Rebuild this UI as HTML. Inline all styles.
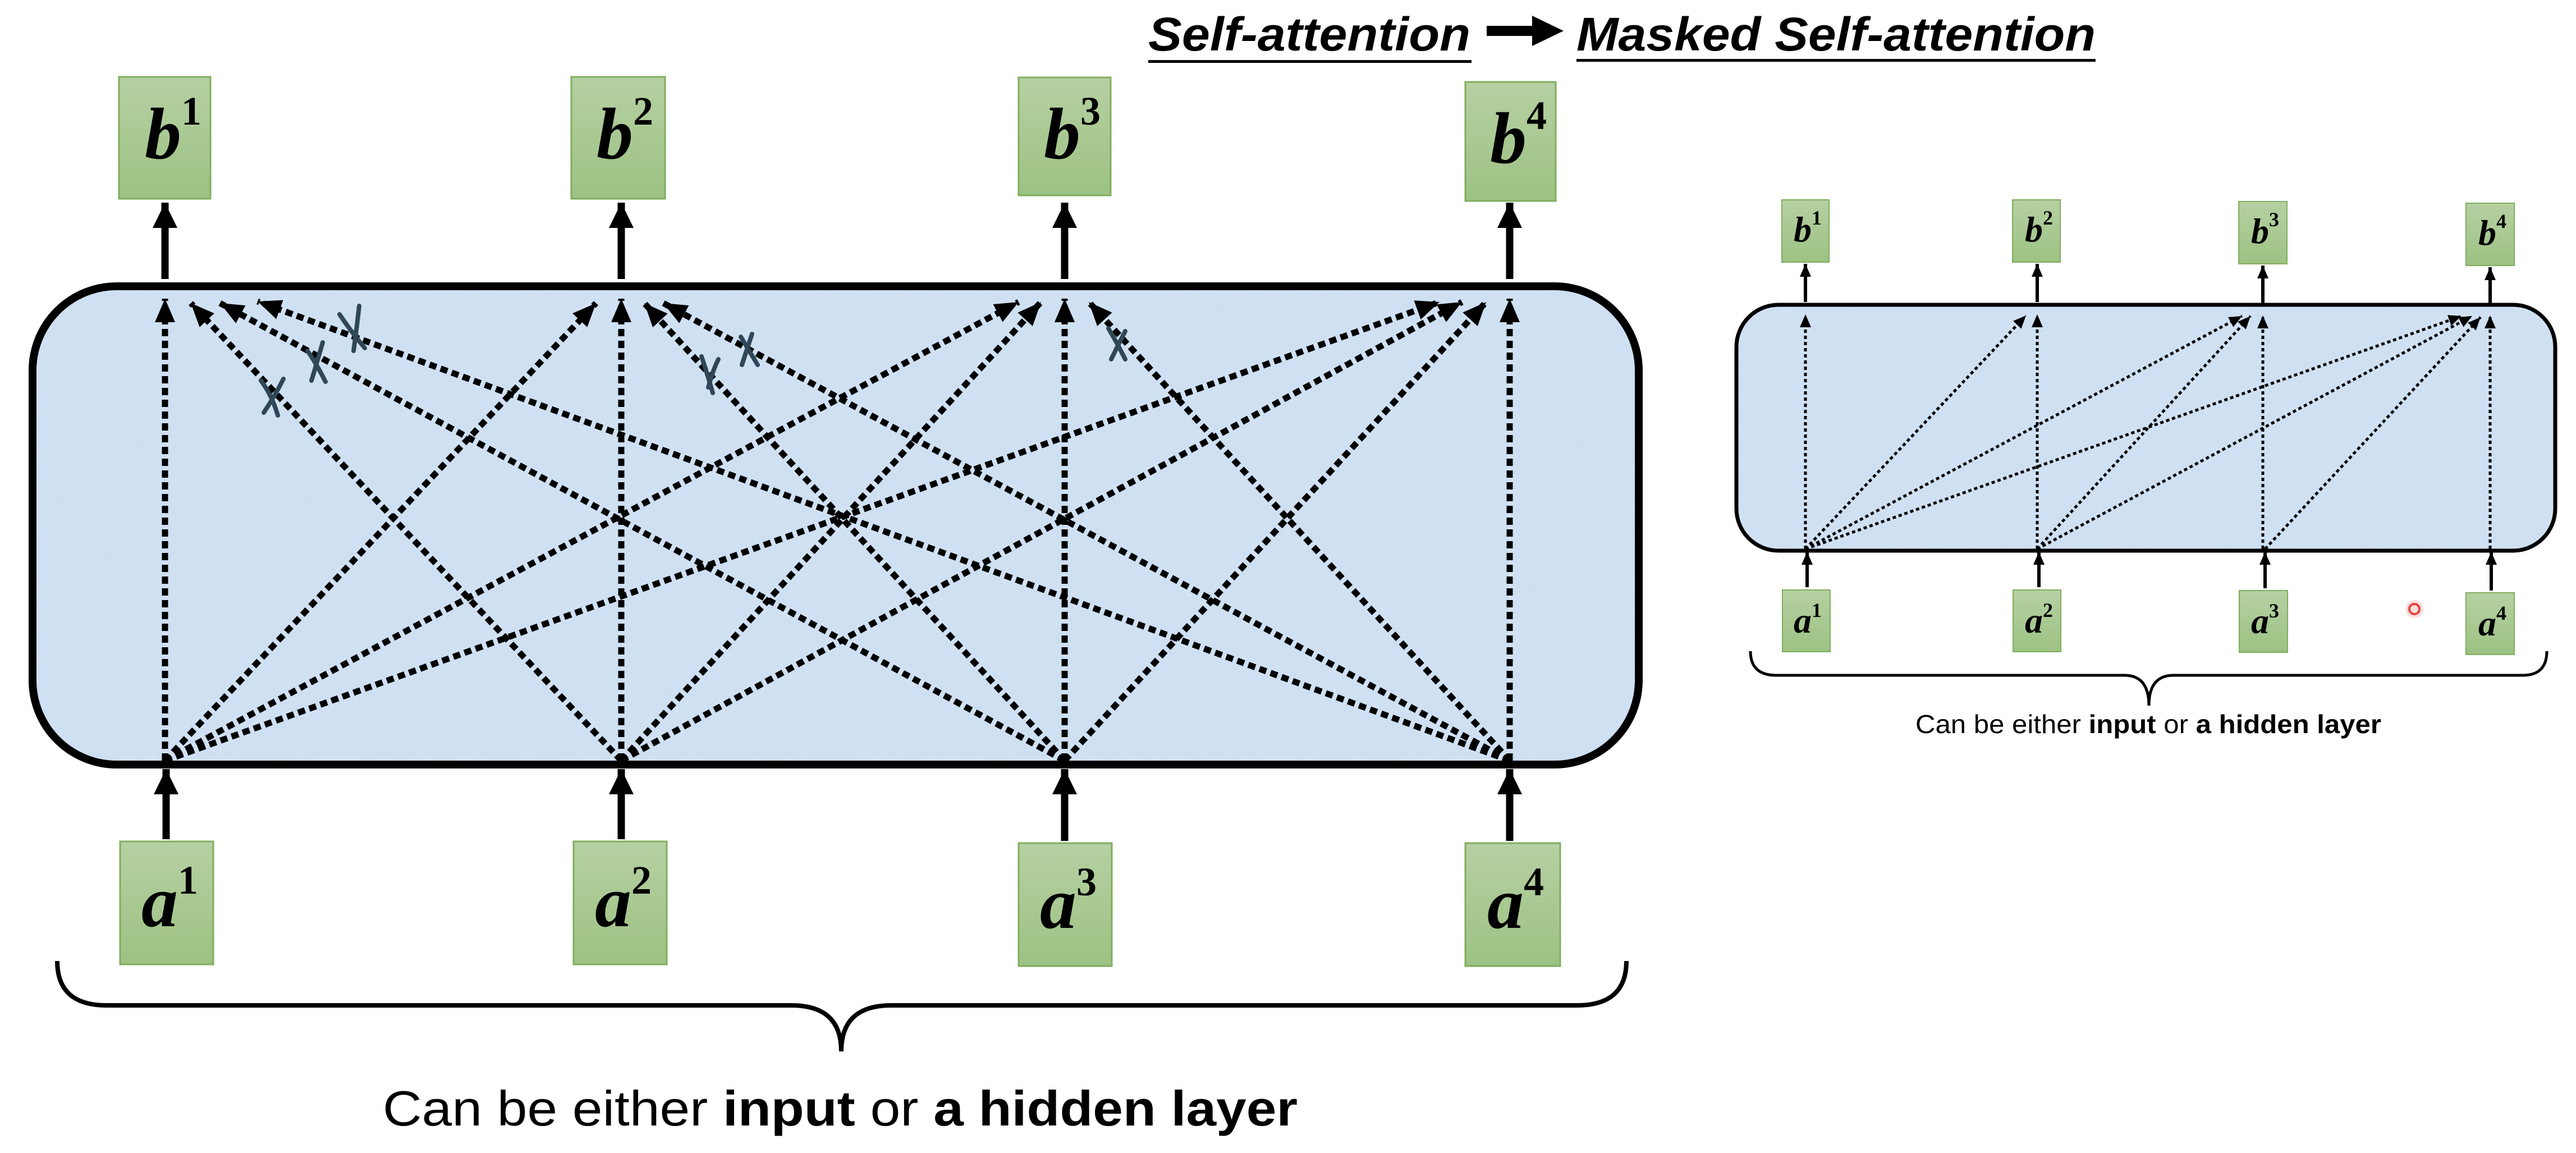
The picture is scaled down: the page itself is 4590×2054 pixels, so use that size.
<!DOCTYPE html>
<html><head><meta charset="utf-8"><style>html,body{margin:0;padding:0;background:#fff}svg{display:block}</style></head>
<body>
<svg width="4590" height="2054" viewBox="0 0 4590 2054" xmlns="http://www.w3.org/2000/svg">
<defs>
<linearGradient id="g" x1="0" y1="0" x2="0" y2="1"><stop offset="0" stop-color="#b6d0a2"/><stop offset="1" stop-color="#9cc283"/></linearGradient>
<filter id="tex"><feTurbulence type="fractalNoise" baseFrequency="0.05" numOctaves="2" seed="3"/><feColorMatrix type="matrix" values="0 0 0 0 0.55  0 0 0 0 0.68  0 0 0 0 0.85  0 0 0 0.35 0"/><feComposite in2="SourceGraphic" operator="in"/></filter>
<marker id="hL" markerUnits="userSpaceOnUse" markerWidth="44" markerHeight="36" refX="42" refY="18" orient="auto"><path d="M0,0 L42,18 L0,36 Z" fill="#000"/></marker>
<marker id="hS" markerUnits="userSpaceOnUse" markerWidth="46" markerHeight="44" refX="45" refY="22" orient="auto"><path d="M0,0 L45,22 L0,44 Z" fill="#000"/></marker>
<marker id="hr" markerUnits="userSpaceOnUse" markerWidth="24" markerHeight="20" refX="23" refY="10" orient="auto"><path d="M0,0 L23,10 L0,20 Z" fill="#000"/></marker>
</defs>

<!-- Title -->
<g font-family="Liberation Sans, sans-serif" font-weight="bold" font-style="italic" font-size="84">
<text x="2046" y="90" textLength="574" lengthAdjust="spacingAndGlyphs">Self-attention</text>
<text x="2809" y="90" textLength="925" lengthAdjust="spacingAndGlyphs">Masked Self-attention</text>
</g>
<rect x="2046" y="107" width="576" height="5" fill="#000"/>
<rect x="2809" y="105" width="925" height="5" fill="#000"/>
<path d="M2649,46 L2730,46 L2730,28 L2786,55 L2730,82 L2730,64 L2649,64 Z" fill="#000"/>

<!-- LEFT DIAGRAM -->
<rect x="58" y="510" width="2862" height="852" rx="150" ry="150" fill="#d2e2f4" stroke="#000" stroke-width="14"/>
<rect x="65" y="517" width="2848" height="838" rx="143" ry="143" fill="#fff" filter="url(#tex)"/>

<g fill="url(#g)" stroke="#7fae5e" stroke-width="3">
<rect x="212" y="137" width="163" height="217"/>
<rect x="1018" y="137" width="167" height="217"/>
<rect x="1815" y="138" width="164" height="210"/>
<rect x="2611" y="146" width="161" height="212"/>
<rect x="214" y="1499" width="166" height="219"/>
<rect x="1022" y="1499" width="166" height="219"/>
<rect x="1815" y="1502" width="166" height="219"/>
<rect x="2611" y="1502" width="169" height="219"/>
</g>
<g font-family="Liberation Serif, serif" font-weight="bold" font-style="italic" fill="#000">
<text x="258" y="282" font-size="130">b<tspan dy="-60" font-size="72" font-style="normal">1</tspan></text>
<text x="1063" y="282" font-size="130">b<tspan dy="-60" font-size="72" font-style="normal">2</tspan></text>
<text x="1860" y="282" font-size="130">b<tspan dy="-60" font-size="72" font-style="normal">3</tspan></text>
<text x="2655" y="290" font-size="130">b<tspan dy="-60" font-size="72" font-style="normal">4</tspan></text>
<text x="252" y="1650" font-size="130">a<tspan dy="-58" font-size="72" font-style="normal">1</tspan></text>
<text x="1060" y="1650" font-size="130">a<tspan dy="-58" font-size="72" font-style="normal">2</tspan></text>
<text x="1853" y="1653" font-size="130">a<tspan dy="-58" font-size="72" font-style="normal">3</tspan></text>
<text x="2650" y="1653" font-size="130">a<tspan dy="-58" font-size="72" font-style="normal">4</tspan></text>
</g>

<!-- solid arrows -->
<g stroke="#000" stroke-width="13" marker-end="url(#hS)">
<line x1="294" y1="497" x2="294" y2="361"/>
<line x1="1107" y1="497" x2="1107" y2="361"/>
<line x1="1897" y1="497" x2="1897" y2="361"/>
<line x1="2690" y1="497" x2="2690" y2="361"/>
<line x1="296" y1="1495" x2="296" y2="1370"/>
<line x1="1107" y1="1495" x2="1107" y2="1370"/>
<line x1="1897" y1="1498" x2="1897" y2="1370"/>
<line x1="2690" y1="1498" x2="2690" y2="1370"/>
</g>

<!-- dotted attention -->
<g stroke="#000" stroke-width="11" stroke-dasharray="13 8" marker-end="url(#hL)" fill="none">
<line x1="294" y1="1355" x2="294" y2="532"/>
<line x1="1107" y1="1355" x2="1107" y2="532"/>
<line x1="1897" y1="1355" x2="1897" y2="532"/>
<line x1="2690" y1="1355" x2="2690" y2="532"/>
<!-- to b1 -->
<line x1="1107" y1="1355" x2="340" y2="540"/>
<line x1="1897" y1="1355" x2="392" y2="540"/>
<line x1="2690" y1="1355" x2="459" y2="537"/>
<!-- to b2 -->
<line x1="294" y1="1355" x2="1062" y2="540"/>
<line x1="1897" y1="1355" x2="1148" y2="540"/>
<line x1="2690" y1="1355" x2="1182" y2="540"/>
<!-- to b3 -->
<line x1="294" y1="1355" x2="1815" y2="538"/>
<line x1="1107" y1="1355" x2="1855" y2="538"/>
<line x1="2690" y1="1355" x2="1940" y2="538"/>
<!-- to b4 -->
<line x1="294" y1="1355" x2="2565" y2="538"/>
<line x1="1107" y1="1355" x2="2605" y2="538"/>
<line x1="1897" y1="1355" x2="2648" y2="538"/>
</g>

<!-- X marks -->
<g stroke="#2f4858" stroke-width="8" stroke-linecap="round" fill="none">
<path d="M465,678 Q485,705 495,740 M470,735 Q490,705 505,675"/>
<path d="M548,625 Q565,650 580,680 M555,678 Q565,645 575,610"/>
<path d="M605,560 Q625,590 650,620 M630,625 Q635,590 640,545"/>
<path d="M1250,635 Q1260,665 1270,700 M1262,690 Q1270,660 1280,640"/>
<path d="M1320,600 Q1335,625 1350,650 M1322,650 Q1330,625 1340,595"/>
<path d="M1975,585 Q1990,610 2005,640 M1980,640 Q1992,615 2005,590"/>
</g>

<!-- brace left -->
<path d="M102,1712 Q102,1791 190,1791 L1410,1791 Q1499,1791 1499,1873 Q1499,1791 1588,1791 L2810,1791 Q2898,1791 2898,1712" fill="none" stroke="#000" stroke-width="8"/>
<text x="682" y="2005" font-family="Liberation Sans, sans-serif" font-size="88" textLength="1630" lengthAdjust="spacingAndGlyphs">Can be either <tspan font-weight="bold">input</tspan> or <tspan font-weight="bold">a hidden layer</tspan></text>

<!-- RIGHT DIAGRAM -->
<rect x="3094" y="543" width="1459" height="438" rx="75" ry="75" fill="#d2e2f4" stroke="#000" stroke-width="7"/>
<rect x="3098" y="547" width="1451" height="430" rx="71" ry="71" fill="#fff" filter="url(#tex)"/>
<g fill="url(#g)" stroke="#7fae5e" stroke-width="2">
<rect x="3175" y="356" width="84" height="111"/>
<rect x="3586" y="356" width="85" height="111"/>
<rect x="3989" y="359" width="86" height="111"/>
<rect x="4394" y="362" width="86" height="111"/>
<rect x="3176" y="1051" width="85" height="110"/>
<rect x="3587" y="1051" width="85" height="110"/>
<rect x="3990" y="1052" width="86" height="110"/>
<rect x="4394" y="1056" width="86" height="110"/>
</g>
<g font-family="Liberation Serif, serif" font-weight="bold" font-style="italic" fill="#000">
<text x="3196" y="430" font-size="64">b<tspan dy="-30" font-size="36" font-style="normal">1</tspan></text>
<text x="3608" y="430" font-size="64">b<tspan dy="-30" font-size="36" font-style="normal">2</tspan></text>
<text x="4011" y="433" font-size="64">b<tspan dy="-30" font-size="36" font-style="normal">3</tspan></text>
<text x="4416" y="436" font-size="64">b<tspan dy="-30" font-size="36" font-style="normal">4</tspan></text>
<text x="3196" y="1127" font-size="64">a<tspan dy="-28" font-size="36" font-style="normal">1</tspan></text>
<text x="3608" y="1127" font-size="64">a<tspan dy="-28" font-size="36" font-style="normal">2</tspan></text>
<text x="4011" y="1128" font-size="64">a<tspan dy="-28" font-size="36" font-style="normal">3</tspan></text>
<text x="4416" y="1132" font-size="64">a<tspan dy="-28" font-size="36" font-style="normal">4</tspan></text>
</g>
<g stroke="#000" stroke-width="6" marker-end="url(#hr)">
<line x1="3217" y1="538" x2="3217" y2="470"/>
<line x1="3630" y1="538" x2="3630" y2="470"/>
<line x1="4032" y1="540" x2="4032" y2="473"/>
<line x1="4437" y1="540" x2="4437" y2="476"/>
<line x1="3220" y1="1046" x2="3220" y2="983"/>
<line x1="3633" y1="1046" x2="3633" y2="983"/>
<line x1="4036" y1="1048" x2="4036" y2="983"/>
<line x1="4439" y1="1052" x2="4439" y2="983"/>
</g>
<g stroke="#000" stroke-width="5" stroke-dasharray="6 5" marker-end="url(#hr)" fill="none">
<line x1="3217" y1="978" x2="3217" y2="560"/>
<line x1="3630" y1="978" x2="3630" y2="560"/>
<line x1="4032" y1="978" x2="4032" y2="562"/>
<line x1="4437" y1="978" x2="4437" y2="562"/>
<line x1="3217" y1="978" x2="3610" y2="562"/>
<line x1="3217" y1="978" x2="3995" y2="563"/>
<line x1="3217" y1="978" x2="4386" y2="563"/>
<line x1="3630" y1="978" x2="4010" y2="563"/>
<line x1="3630" y1="978" x2="4405" y2="563"/>
<line x1="4036" y1="978" x2="4420" y2="565"/>
</g>
<circle cx="4302" cy="1085" r="9" fill="none" stroke="#e0302a" stroke-width="4"/>
<circle cx="4302" cy="1085" r="16" fill="#f08080" opacity="0.25"/>
<path d="M3119,1160 Q3119,1203 3165,1203 L3785,1203 Q3829,1203 3829,1257 Q3829,1203 3873,1203 L4495,1203 Q4538,1203 4538,1160" fill="none" stroke="#000" stroke-width="5"/>
<text x="3413" y="1306" font-family="Liberation Sans, sans-serif" font-size="46" textLength="830" lengthAdjust="spacingAndGlyphs">Can be either <tspan font-weight="bold">input</tspan> or <tspan font-weight="bold">a hidden layer</tspan></text>
</svg>
</body></html>
